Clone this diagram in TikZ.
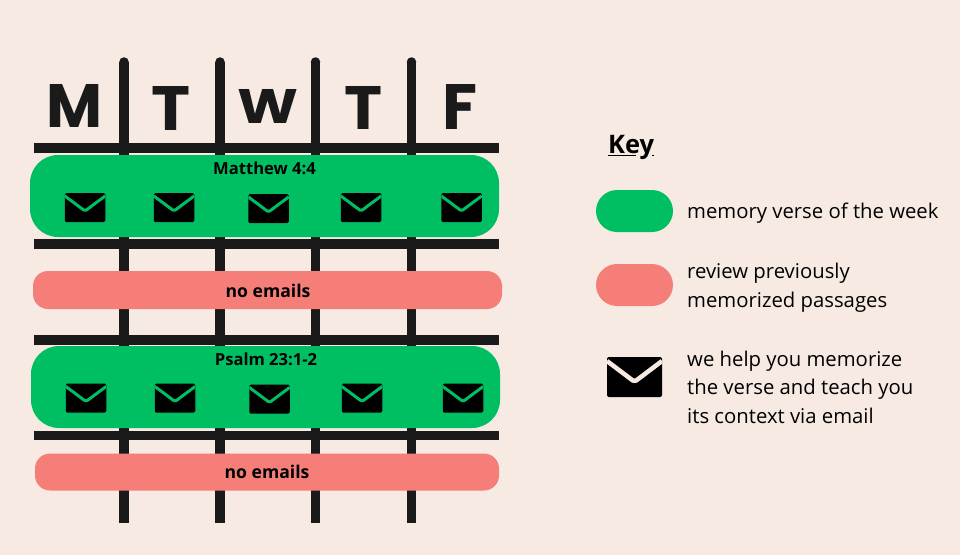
\documentclass[tikz,border=0pt]{standalone}
\usepackage{fontspec}
\setmainfont{Open Sans}
\newfontfamily\headfont{Poppins}
\usetikzlibrary{positioning}
\definecolor{paper}{HTML}{F6EAE3}
\definecolor{ink}{HTML}{1A1A1A}
\definecolor{versegreen}{HTML}{00BF63}
\definecolor{reviewred}{HTML}{F67E79}
\newcommand{\dayletter}[3]{\resizebox{#1pt}{#2pt}{\headfont\bfseries #3}}
\tikzset{
  pill/.style={shape=rectangle, inner sep=0pt},
  envelope/.style={shape=rectangle, fill=black, inner sep=0pt, rounded corners=1.5pt,
    minimum width=40.5pt, minimum height=29pt, path picture={
      \draw [#1, line width=3pt, line join=round]
        ([yshift=-.1*29pt]path picture bounding box.north west)
        -- ([yshift=-.62*29pt]path picture bounding box.north)
        -- ([yshift=-.1*29pt]path picture bounding box.north east);
    }},
  keymail/.style={shape=rectangle, fill=black, inner sep=0pt, rounded corners=2pt,
    minimum width=55pt, minimum height=40pt, path picture={
      \draw [#1, line width=4.5pt, line join=round]
        ([yshift=-.1*40pt]path picture bounding box.north west)
        -- ([yshift=-.62*40pt]path picture bounding box.north)
        -- ([yshift=-.1*40pt]path picture bounding box.north east);
    }},
  day/.style={text=ink, anchor=south, inner sep=0pt},
  title/.style={font=\bfseries\fontsize{16.6}{20}\selectfont, anchor=base, inner sep=0pt},
  offtitle/.style={font=\bfseries\fontsize{17.6}{20}\selectfont, anchor=base, inner sep=0pt},
  keytext/.style={font=\fontsize{20.3}{28.5}\selectfont, align=left, anchor=north west, inner sep=0pt},
}
\begin{document}
\begin{tikzpicture}[x=1pt, y=-1pt]
    \useasboundingbox [fill=paper] (0, 0) rectangle (960, 555);
    % grid
    \foreach \x in {124, 220, 315.5, 411.5} {
      \draw [ink, line width=9.5pt] (\x, 523) -- (\x, 62);
      \fill [ink] (\x, 62) circle (4.75pt);
    }
    \foreach \y in {148, 244, 340, 435.5}
      \draw [ink, line width=9.5pt] (34, \y) -- (499, \y);
    % days
    \node (m) [day] at (75, 128) {\dayletter{56}{43}{M}};
    \node (t1) [day] at (171, 131) {\dayletter{39}{44}{T}};
    \node (w) [day] at (267.5, 124) {\dayletter{61}{34}{W}};
    \node (t2) [day] at (364, 130) {\dayletter{38}{43}{T}};
    \node (f) [day] at (459.5, 130) {\dayletter{35}{45}{F}};
    % weeks
    \node (week1) [pill, fill=versegreen, rounded corners=28pt, minimum width=469pt, minimum height=82pt] at (264.5, 196) {};
    \node (off1) [pill, fill=reviewred, rounded corners=15pt, minimum width=469pt, minimum height=38pt] at (267.5, 290) {};
    \node (week2) [pill, fill=versegreen, rounded corners=28pt, minimum width=469pt, minimum height=82pt] at (265.5, 387) {};
    \node (off2) [pill, fill=reviewred, rounded corners=15pt, minimum width=464pt, minimum height=37pt] at (267, 472) {};
    \node (verse1) [title] at (264.5, 174) {Matthew 4:4};
    \node (verse2) [title] at (266, 365) {Psalm 23:1-2};
    \node (none1) [offtitle] at (268, 297) {no emails};
    \node (none2) [offtitle] at (267, 478) {no emails};
    % envelopes
    \node (a1) [envelope=versegreen] at (85, 207.5) {};
    \node (a2) [envelope=versegreen] at (174, 207.5) {};
    \node (a3) [envelope=versegreen] at (268.5, 208.5) {};
    \node (a4) [envelope=versegreen] at (361, 207.5) {};
    \node (a5) [envelope=versegreen] at (461.5, 207.5) {};
    \node (b1) [envelope=versegreen] at (86, 398) {};
    \node (b2) [envelope=versegreen] at (175, 398) {};
    \node (b3) [envelope=versegreen] at (269.5, 399) {};
    \node (b4) [envelope=versegreen] at (362, 398) {};
    \node (b5) [envelope=versegreen] at (463, 398) {};
    % key
    \node (key) [anchor=base west, inner sep=0pt, font=\bfseries\fontsize{25.5}{28}\selectfont] at (608, 153) {Key};
    \draw [black, line width=1.3pt] (608, 155.5) -- (636, 155.5) (652, 155.5) -- (654, 155.5);
    \node (keygreen) [pill, fill=versegreen, rounded corners=21pt, minimum width=77pt, minimum height=42pt] at (634.5, 211) {};
    \node (keyred) [pill, fill=reviewred, rounded corners=21pt, minimum width=77pt, minimum height=42pt] at (634.5, 285) {};
    \node (mail) [keymail=paper] at (634.5, 377) {};
    \node (keytext1) [keytext] at (687, 203) {memory verse of the week};
    \node (keytext2) [keytext] at (687, 263) {review previously\\memorized passages};
    \node (keytext3) [keytext] at (687, 350.7) {we help you memorize\\the verse and teach you\\its context via email};
\end{tikzpicture}
\end{document}
